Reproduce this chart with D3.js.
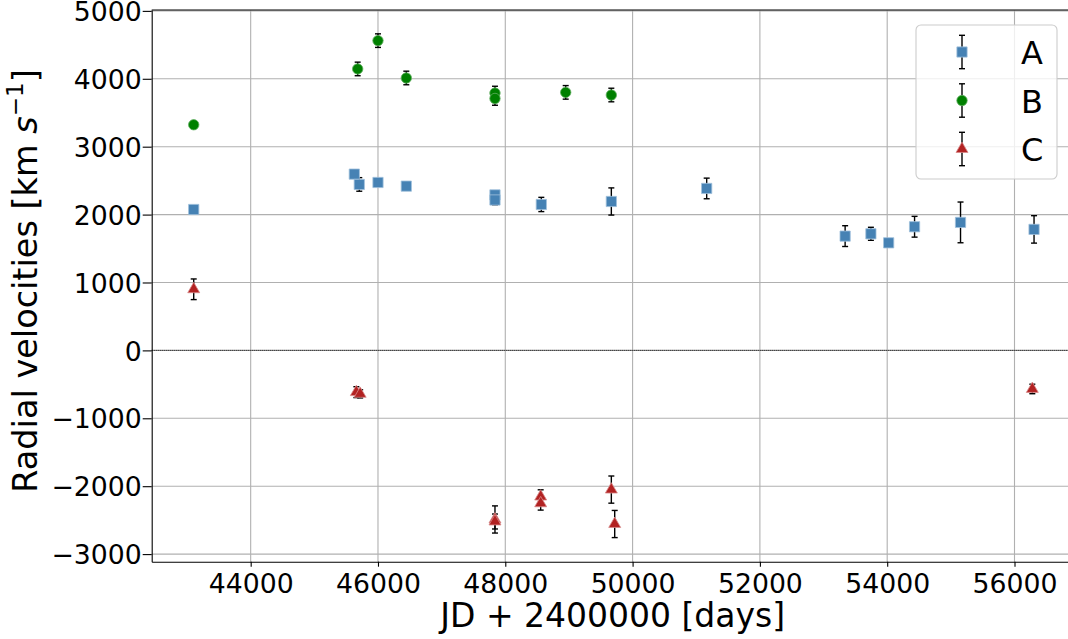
<!DOCTYPE html>
<html>
<head>
<meta charset="utf-8">
<script src="https://cdn.jsdelivr.net/npm/d3@7"></script>
<style>
  body { margin: 0; background: #fff; }
  svg { display: block; font-family: "DejaVu Sans", sans-serif; }
</style>
</head>
<body>
<svg id="chart"></svg>
<script>
// series: [JD - 2400000, velocity, error]
let seriesA = [
  [43105, 2075, 0], [45628, 2596, 0], [45706, 2444, 100], [46000, 2473, 0],
  [46445, 2419, 0], [47838, 2290, 0], [47838, 2215, 70], [48566, 2149, 105],
  [49666, 2193, 200], [51164, 2385, 152], [53339, 1683, 153], [53744, 1717, 96],
  [54023, 1584, 0], [54430, 1821, 153], [55152, 1885, 300], [56307, 1782, 202]
];
let seriesB = [
  [43105, 3323, 0], [45681, 4145, 100], [46000, 4562, 100], [46445, 4012, 100],
  [47838, 3790, 100], [47838, 3710, 100], [48949, 3800, 100], [49666, 3761, 100]
];
let seriesC = [
  [43105, 900, 152], [45660, -615, 80], [45720, -640, 60], [47838, -2490, 200],
  [47838, -2520, 110], [48556, -2153, 100], [48556, -2252, 100],
  [49666, -2050, 200], [49719, -2557, 200], [56280, -568, 70]
];
let names = ['A', 'B', 'C'];
let xTicks = [44000, 46000, 48000, 50000, 52000, 54000, 56000];
let yTicks = [-3000, -2000, -1000, 0, 1000, 2000, 3000, 4000, 5000];

let w = 1068;
let h = 639;
let padL = 151.7, padR = 1073.7, padT = 10, padB = 561.7;

let svg = d3.select('#chart').attr('width', w).attr('height', h);

let xScale = d3.scaleLinear().domain([42445, 56930]).range([padL, padR]);
let yScale = d3.scaleLinear().domain([-3112, 5013]).range([padB, padT]);

// grid
svg.append('g').selectAll('line').data(xTicks).enter().append('line')
  .attr('x1', d => xScale(d)).attr('x2', d => xScale(d))
  .attr('y1', padT).attr('y2', padB)
  .attr('stroke', '#b0b0b0').attr('stroke-width', 1.1);
svg.append('g').selectAll('line').data(yTicks).enter().append('line')
  .attr('x1', padL).attr('x2', padR)
  .attr('y1', d => yScale(d)).attr('y2', d => yScale(d))
  .attr('stroke', '#b0b0b0').attr('stroke-width', 1.1);

// zero line
svg.append('line')
  .attr('x1', padL).attr('x2', padR)
  .attr('y1', yScale(0)).attr('y2', yScale(0))
  .attr('stroke', '#000').attr('stroke-width', 1)
  .attr('stroke-dasharray', '1,1');

// axes
let xAxis = d3.axisBottom(xScale).tickValues(xTicks).tickFormat(d3.format('d'))
  .tickSizeInner(5).tickSizeOuter(0).tickPadding(5);
let gx = svg.append('g').attr('transform', 'translate(0,' + padB + ')').call(xAxis);
let yAxis = d3.axisLeft(yScale).tickValues(yTicks).tickFormat(d3.format('d'))
  .tickSizeInner(9).tickSizeOuter(0).tickPadding(1);
let gy = svg.append('g').attr('transform', 'translate(' + padL + ',0)').call(yAxis);
[gx, gy].forEach(g => {
  g.selectAll('text').attr('font-size', 26.7).attr('fill', '#000')
    .attr('font-family', '"DejaVu Sans", sans-serif');
  g.selectAll('line').attr('stroke', '#000').attr('stroke-width', 1.1);
  g.select('.domain').attr('stroke', '#000').attr('stroke-width', 1.1);
});
gx.selectAll('text').attr('dy', '0.78em');
gy.selectAll('text').attr('dy', '0.36em');

// top spine
svg.append('line').attr('x1', padL).attr('x2', padR)
  .attr('y1', padT).attr('y2', padT).attr('stroke', '#000').attr('stroke-width', 1.1);

// axis labels
svg.append('text')
  .attr('x', (padL + padR) / 2).attr('y', 627)
  .attr('text-anchor', 'middle').attr('font-size', 33)
  .text('JD + 2400000 [days]');

let yl = svg.append('text')
  .attr('transform', 'translate(37,281) rotate(-90)')
  .attr('text-anchor', 'middle').attr('font-size', 33.5);
yl.append('tspan').text('Radial velocities [km ');
yl.append('tspan').attr('font-style', 'italic').text('s');
yl.append('tspan').attr('font-size', 23).attr('dy', -14).text('−1');
yl.append('tspan').attr('dy', 14).text(']');

// markers
let styles = [
  {data: seriesA, color: 'steelblue', edge: '#9fc0dc', shape: d3.symbolSquare, size: 105},
  {data: seriesB, color: 'green', edge: '#5fae5f', shape: d3.symbolCircle, size: 85},
  {data: seriesC, color: '#b22222', edge: '#d88a8a', shape: d3.symbolTriangle, size: 62}
];

const drawErr = (g, cx, y1, y2) => {
  g.append('line').attr('x1', cx).attr('x2', cx).attr('y1', y1).attr('y2', y2)
    .attr('stroke', '#000').attr('stroke-width', 1.4);
  [y1, y2].forEach(y => g.append('line').attr('x1', cx - 3).attr('x2', cx + 3)
    .attr('y1', y).attr('y2', y).attr('stroke', '#000').attr('stroke-width', 1.4));
};

styles.forEach(s => {
  let g = svg.append('g');
  s.data.filter(d => d[2] > 0).forEach(d => {
    drawErr(g, xScale(d[0]), yScale(d[1] - d[2]), yScale(d[1] + d[2]));
  });
  g.selectAll('path').data(s.data).enter().append('path')
    .attr('d', d3.symbol().type(s.shape).size(s.size))
    .attr('transform', d => 'translate(' + xScale(d[0]) + ',' + yScale(d[1]) + ')')
    .attr('fill', s.color).attr('stroke', s.edge).attr('stroke-width', 0.8);
});

// legend
let legend = svg.append('g');
legend.append('rect')
  .attr('x', 916).attr('y', 25).attr('width', 141).attr('height', 154)
  .attr('rx', 5).attr('fill', 'rgba(255,255,255,0.8)')
  .attr('stroke', '#cccccc').attr('stroke-width', 1.1);
styles.forEach((s, i) => {
  let cy = 52 + i * 48.5;
  drawErr(legend, 962, cy - 16.7, cy + 16.7);
  legend.append('path')
    .attr('d', d3.symbol().type(s.shape).size(s.size))
    .attr('transform', 'translate(962,' + cy + ')')
    .attr('fill', s.color).attr('stroke', s.edge).attr('stroke-width', 0.8);
  legend.append('text').attr('x', 1021).attr('y', cy + 12)
    .attr('font-size', 32).text(names[i]);
});
</script>
</body>
</html>
